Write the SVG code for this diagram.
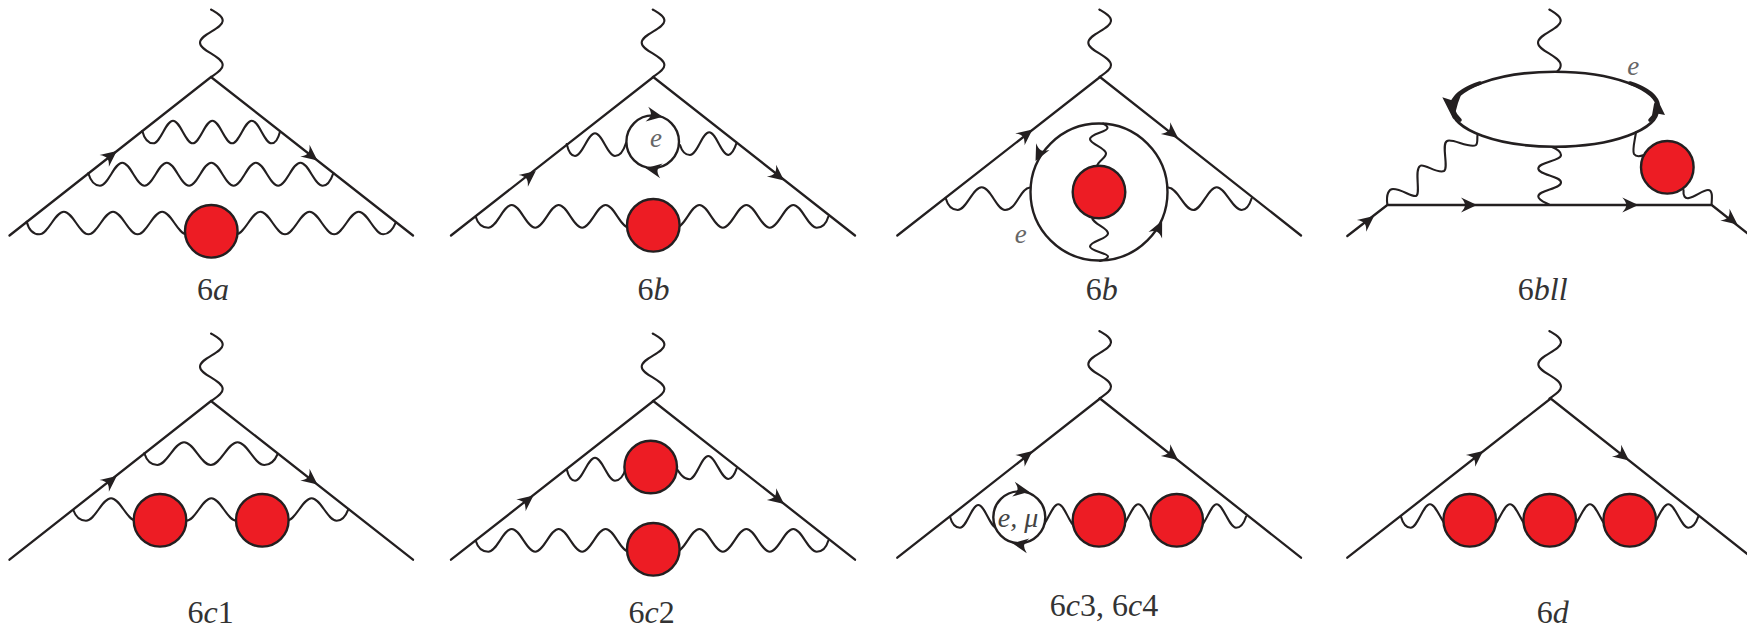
<svg xmlns="http://www.w3.org/2000/svg" width="1747" height="629" viewBox="0 0 1747 629">
<style>
.l{fill:none;stroke:#231f20;stroke-width:2.3;stroke-linecap:round;stroke-linejoin:miter}
.w{fill:none;stroke:#231f20;stroke-width:2.1;stroke-linecap:round}
.a{fill:#231f20;stroke:none}
.b{fill:#ed1c24;stroke:#231f20;stroke-width:2.4}
.o{fill:#fff;stroke:#231f20;stroke-width:2.4}
.c{fill:none;stroke:#231f20;stroke-width:2.4}
.t{font-family:"Liberation Serif","Times New Roman",serif;font-size:32px;fill:#333;text-anchor:middle}
.s{font-family:"Liberation Serif","Times New Roman",serif;font-size:27px;font-style:italic;fill:#666;text-anchor:middle}
.i{font-style:italic}
</style>
<defs>
<path id="ph" d="M211,9.5 C216,12.5 223,16 222.7,21 C222.3,29 200,34 200,42.7 C200,51 222.5,56 222.7,65 C222.8,70 216,73.5 211,77"/>
<path id="ah" d="M1,0 L-15,-7.5 Q-11,-3 -11,0 Q-11,3 -15,7.5 Z"/>
</defs>
<g id="connectors">
<g id="lines-6a">
<use href="#ph" class="w"/>
<path class="l" d="M9.5,235.5 L211,77 L413,235.5"/>
<path class="w" d="M142.3,131 Q145.5,143.3 153.3,143.3 c7.2,0 12.5,-22.6 19.7,-22.6 s12.5,22.6 19.7,22.6 s12.5,-22.6 19.7,-22.6 s12.5,22.6 19.7,22.6 s12.5,-22.6 19.7,-22.6 s12.5,22.6 19.7,22.6 Q277,143.3 280,131.7"/>
<path class="w" d="M88.3,173.3 Q92,185.7 100,185.7 c8.1,0 14.2,-23 22.27,-23 s14.2,23 22.27,23 s14.2,-23 22.27,-23 s14.2,23 22.27,23 s14.2,-23 22.27,-23 s14.2,23 22.27,23 s14.2,-23 22.27,-23 s14.2,23 22.27,23 s14.2,-23 22.27,-23 s14.2,23 22.27,23 Q329,185.7 333.3,173.3"/>
<path class="w" d="M26.7,221.7 Q30,234.3 39.3,234.3 c9,0 15.6,-22.6 24.57,-22.6 s15.6,22.6 24.57,22.6 s15.6,-22.6 24.57,-22.6 s15.6,22.6 24.57,22.6 s15.6,-22.6 24.57,-22.6 s15.6,22.6 24.57,22.6 s15.6,-22.6 24.57,-22.6 s15.6,22.6 24.57,22.6 s15.6,-22.6 24.57,-22.6 s15.6,22.6 24.57,22.6 s15.6,-22.6 24.57,-22.6 s15.6,22.6 24.57,22.6 s15.6,-22.6 24.57,-22.6 s15.6,22.6 24.57,22.6 Q391,234.3 395.7,222.7"/>
<use href="#ah" class="a" transform="translate(116,151.7) rotate(-38.2)"/>
<use href="#ah" class="a" transform="translate(316.7,160) rotate(38.2)"/>
</g>
<g id="lines-6b">
<use href="#ph" class="w" x="441.7"/>
<path class="l" d="M451,235.5 L653.3,77 L855,235.5"/>
<path class="w" d="M566.7,144 Q569.5,156 575,156 c7.2,0 12.8,-22.7 20,-22.7 s12.8,22.7 20,22.7 Q622,156 626,143"/>
<path class="w" d="M680,145 Q683,155 690,155 c7,0 12.2,-22.7 19.2,-22.7 s12.2,22.7 19.2,22.7 Q733,154 736.7,142.7"/>
<path class="w" d="M475.7,216.7 Q479,227.7 488.3,227.7 c8.5,0 15,-22.7 23.46,-22.7 s15,22.7 23.46,22.7 s15,-22.7 23.46,-22.7 s15,22.7 23.46,22.7 s15,-22.7 23.46,-22.7 s15,22.7 23.46,22.7 s15,-22.7 23.46,-22.7 s15,22.7 23.46,22.7 s15,-22.7 23.46,-22.7 s15,22.7 23.46,22.7 s15,-22.7 23.46,-22.7 s15,22.7 23.46,22.7 s15,-22.7 23.46,-22.7 s15,22.7 23.46,22.7 Q825,227.7 828.3,216.7"/>
<use href="#ah" class="a" transform="translate(535,171.7) rotate(-38.2)"/>
<use href="#ah" class="a" transform="translate(783.3,180) rotate(38.2)"/>
</g>
<g id="lines-6b-2">
<use href="#ph" class="w" x="888.3"/>
<path class="l" d="M897.3,235.5 L1100,77 L1301,235.5"/>
<path class="w" d="M945.7,198.3 Q949,210 957.7,210 c8.6,0 15,-22.7 24,-22.7 s15,22.7 23.3,22.7 C1017,210 1020,188 1030,187.5"/>
<path class="w" d="M1168.3,187.5 C1178,188 1184,210 1193.3,210 c8.5,0 14.8,-22.7 23.4,-22.7 s16,22.7 25,22.7 Q1248,210 1251.7,198.3"/>
<path class="w" d="M1103,123.5 C1106,125 1107.5,126 1107.5,128 C1107.5,132 1090,134 1090,139 C1090,144 1106,148 1106,153.5 C1106,158 1098,161 1097,166"/>
<path class="w" d="M1092,216 C1091,224 1108,227 1108,233.5 C1108,239 1090,241 1090,246.5 C1090,251 1108,253 1108,256.5 C1108,259 1104,260 1100,261"/>
<use href="#ah" class="a" transform="translate(1031.7,130) rotate(-38.2)"/>
<use href="#ah" class="a" transform="translate(1177.3,137.3) rotate(38.2)"/>
</g>
<g id="lines-6bll">
<path class="w" d="M1549.3,9.5 C1554,12.5 1561,16 1560.7,21 C1560.3,29 1538,34 1538,42.7 C1538,51 1560.5,56 1560.7,65 C1560.8,68 1559,70 1557,71.5"/>
<path class="l" d="M1347.3,236 L1387.3,205 L1711.7,205 L1752,237"/>
<path class="w" d="M1387.3,204 C1386,194 1389,189 1393,189 C1402,189 1411,197 1416,196 C1421,194 1414,170 1420,166 C1424,163 1437,174 1444,171 C1449,168 1441,144 1447,141 C1452,138 1470,149 1476,145 C1478,143 1477,139 1477.5,135"/>
<path class="w" d="M1552,147 C1557,149 1561,151 1561,155 C1561,161 1538.3,162 1538.3,168.5 C1538.3,175 1561,176 1561,182.5 C1561,189 1538.3,190 1538.3,196.5 C1538.3,200 1544,202 1549,204.5"/>
<path class="w" d="M1636,132 C1635,140 1632,150 1634,154 C1636,157 1640,156.5 1644,155"/>
<path class="w" d="M1683.5,190 C1683,196 1685,199 1689,198 C1695,197 1703,190 1708,190 C1713,190 1712,198 1711.5,205"/>
<ellipse class="l" cx="1555" cy="109.2" rx="103" ry="37.5" style="stroke-width:2.6"/>
<path class="l" d="M1480,83 C1468,87 1458,92 1453.5,100 C1451,105 1452,112 1460,120" style="stroke-width:3.6"/>
<path class="l" d="M1630,83 C1642,87 1652,92 1656.5,100 C1660,106 1657,114 1650,120" style="stroke-width:3.6"/>
<path class="a" d="M1442.3,97.3 L1453.5,119.5 L1458,103 L1461,95 L1451,100 Z"/>
<path class="a" d="M1665,115 L1656.7,98 L1654,104 L1651.7,117 L1657,113.5 Z"/>
<use href="#ah" class="a" transform="translate(1373.3,216.7) rotate(-38.2)"/>
<use href="#ah" class="a" transform="translate(1476,205)"/>
<use href="#ah" class="a" transform="translate(1637.3,205)"/>
<use href="#ah" class="a" transform="translate(1736.7,224) rotate(38.2)"/>
</g>
<g id="lines-6c1">
<use href="#ph" class="w" y="324"/>
<path class="l" d="M9.5,559.7 L211,401 L413,559.7"/>
<path class="w" d="M144.3,453.3 Q148,465 157.3,465 c9.7,0 17,-22.7 26.75,-22.7 s17,22.7 26.75,22.7 s17,-22.7 26.75,-22.7 s17,22.7 26.75,22.7 Q273,465 277.7,454"/>
<path class="w" d="M73.3,510 Q77,520.7 86,520.7 c9.1,0 16,-22.4 25.07,-22.4 s16,22.4 25.07,22.4 s16,-22.4 25.07,-22.4 s16,22.4 25.07,22.4 s16,-22.4 25.07,-22.4 s16,22.4 25.07,22.4 s16,-22.4 25.07,-22.4 s16,22.4 25.07,22.4 s16,-22.4 25.07,-22.4 s16,22.4 25.07,22.4 Q344,520.7 348.3,509.3"/>
<use href="#ah" class="a" transform="translate(116,476.7) rotate(-38.2)"/>
<use href="#ah" class="a" transform="translate(316.7,484) rotate(38.2)"/>
</g>
<g id="lines-6c2">
<use href="#ph" class="w" x="441.7" y="324"/>
<path class="l" d="M451,559.7 L653.3,401 L855,559.7"/>
<path class="w" d="M566.7,469.3 Q569.5,480.7 575,480.7 c7.2,0 12.8,-23 20,-23 s12.8,23 20,23 Q622,480.7 626,468"/>
<path class="w" d="M672,462 C678,470 682,479.3 689.3,479.3 c7,0 12.2,-23.3 19,-23.3 s13,23 20,23 Q733,479 736.7,468.3"/>
<path class="w" d="M475.7,540.7 Q479,551.7 488.3,551.7 c8.5,0 15,-22.7 23.46,-22.7 s15,22.7 23.46,22.7 s15,-22.7 23.46,-22.7 s15,22.7 23.46,22.7 s15,-22.7 23.46,-22.7 s15,22.7 23.46,22.7 s15,-22.7 23.46,-22.7 s15,22.7 23.46,22.7 s15,-22.7 23.46,-22.7 s15,22.7 23.46,22.7 s15,-22.7 23.46,-22.7 s15,22.7 23.46,22.7 s15,-22.7 23.46,-22.7 s15,22.7 23.46,22.7 Q825,551.7 828.3,540.7"/>
<use href="#ah" class="a" transform="translate(532.7,496) rotate(-38.2)"/>
<use href="#ah" class="a" transform="translate(783.3,503.3) rotate(38.2)"/>
</g>
<g id="lines-6c3">
<use href="#ph" class="w" x="888.3" y="321.5"/>
<path class="l" d="M897.3,557.7 L1100,398.5 L1301,557.7"/>
<path class="w" d="M950,516.7 Q953,527.7 960,527.7 c6.7,0 11.7,-22.7 18.3,-22.7 s11.7,22.7 18.3,22.7"/>
<path class="w" d="M1040,527 c6.5,0 11.5,-22.7 18.3,-22.7 s11.5,22.7 18.3,22.7"/>
<path class="w" d="M1120,527 c6.5,0 11.5,-22.7 18.3,-22.7 s11.5,22.7 18.3,22.7"/>
<path class="w" d="M1198.7,527 c6.5,0 11.5,-22.7 18,-22.7 s12.5,23.4 19.3,23.4 Q1242.5,527.7 1246,516.7"/>
<use href="#ah" class="a" transform="translate(1031.7,451.7) rotate(-38.2)"/>
<use href="#ah" class="a" transform="translate(1177.3,459.3) rotate(38.2)"/>
</g>
<g id="lines-6d">
<use href="#ph" class="w" x="1338.3" y="321.5"/>
<path class="l" d="M1347.3,557.7 L1550.7,398.5 L1752,557.7"/>
<path class="w" d="M1401,516.7 Q1404,527.7 1410.7,527.7 c7,0 12.3,-23.4 19.3,-23.4 s13,23.4 20,23.4"/>
<path class="w" d="M1490.5,527.7 c7,0 12.5,-23.4 19.5,-23.4 s12.5,23.4 19.5,23.4"/>
<path class="w" d="M1570.5,527.7 c7,0 12.5,-23.4 19.5,-23.4 s12.5,23.4 19.5,23.4"/>
<path class="w" d="M1648.8,527.7 c7,0 12.5,-23.4 19.5,-23.4 s13,23.4 20,23.4 Q1694.5,527.7 1698.3,516.7"/>
<use href="#ah" class="a" transform="translate(1482.3,451.7) rotate(-38.2)"/>
<use href="#ah" class="a" transform="translate(1628.3,460) rotate(38.2)"/>
</g>
</g>
<g id="node-6a">
<circle class="b" cx="211.3" cy="231.3" r="26.3"/>
<text class="t" x="213" y="300">6<tspan class="i">a</tspan></text>
</g>
<g id="node-6b">
<circle class="o" cx="652.7" cy="141.7" r="26.3"/>
<use href="#ah" class="a" transform="translate(661.7,116.7) rotate(10)"/>
<use href="#ah" class="a" transform="translate(646.7,168.3) rotate(190)"/>
<text class="s" x="656" y="147">e</text>
<circle class="b" cx="653.3" cy="225.3" r="26.3"/>
<text class="t" x="653.5" y="300">6<tspan class="i">b</tspan></text>
</g>
<g id="node-6b-2">
<circle class="c" cx="1099" cy="192" r="68.5"/>
<use href="#ah" class="a" transform="translate(1036,160) rotate(117)"/>
<use href="#ah" class="a" transform="translate(1161.7,221.7) rotate(-64.7)"/>
<circle class="b" cx="1099" cy="192" r="26.3"/>
<text class="s" x="1020.7" y="242.7">e</text>
<text class="t" x="1101.7" y="300">6<tspan class="i">b</tspan></text>
</g>
<g id="node-6bll">
<circle class="b" cx="1667.3" cy="167.3" r="26.3"/>
<text class="s" x="1633.3" y="74.7">e</text>
<text class="t" x="1542.7" y="300">6<tspan class="i">bll</tspan></text>
</g>
<g id="node-6c1">
<circle class="b" cx="160" cy="520.3" r="26.3"/>
<circle class="b" cx="262.3" cy="520.3" r="26.3"/>
<text class="t" x="210.7" y="622.7">6<tspan class="i">c</tspan>1</text>
</g>
<g id="node-6c2">
<circle class="b" cx="650.7" cy="467" r="26.3"/>
<circle class="b" cx="653.3" cy="549.3" r="26.3"/>
<text class="t" x="651.7" y="622.7">6<tspan class="i">c</tspan>2</text>
</g>
<g id="node-6c3">
<circle class="o" cx="1019.3" cy="517.3" r="26"/>
<use href="#ah" class="a" transform="translate(1028.3,491.7) rotate(10)"/>
<use href="#ah" class="a" transform="translate(1013.3,543.3) rotate(190)"/>
<text class="s" x="1018" y="526.7" style="font-size:28px;fill:#444">e, μ</text>
<circle class="b" cx="1099" cy="520.3" r="26.3"/>
<circle class="b" cx="1176.7" cy="520.3" r="26.3"/>
<text class="t" x="1104" y="616">6<tspan class="i">c</tspan>3, 6<tspan class="i">c</tspan>4</text>
</g>
<g id="node-6d">
<circle class="b" cx="1469.7" cy="520.3" r="26.3"/>
<circle class="b" cx="1549.7" cy="520.3" r="26.3"/>
<circle class="b" cx="1629.7" cy="520.3" r="26.3"/>
<text class="t" x="1552.7" y="622.7">6<tspan class="i">d</tspan></text>
</g>
</svg>
